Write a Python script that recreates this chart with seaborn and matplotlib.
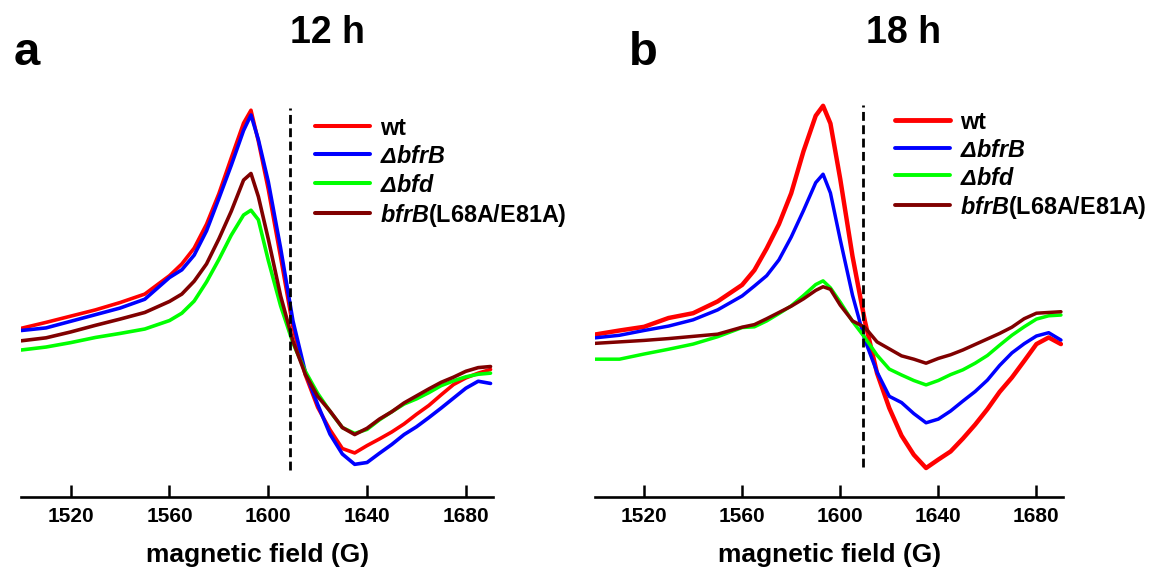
import matplotlib
matplotlib.use("Agg")
import matplotlib.pyplot as plt
import numpy as np
import pandas as pd
import seaborn as sns
from matplotlib.lines import Line2D

# ---------------- data (arbitrary intensity units) ----------------
field = [1500, 1510, 1520, 1530, 1540, 1550, 1560, 1565, 1570, 1575, 1580, 1585, 1590, 1593,
         1596, 1600, 1605, 1610, 1615, 1620, 1625, 1630, 1635, 1640, 1645, 1650, 1655, 1660,
         1665, 1670, 1675, 1680, 1685, 1690]

samples = ["wt", "ΔbfrB", "Δbfd", "bfrB(L68A/E81A)"]
legend_labels = ["wt", r"$\mathit{ΔbfrB}$", r"$\mathit{Δbfd}$", r"$\mathit{bfrB}$(L68A/E81A)"]
colors = ["#ff0000", "#0000ff", "#00ff00", "#800000"]

# panel a : 12 h
a_wt = [447, 463, 480, 497, 517, 540, 590, 622, 665, 730, 813, 910, 1005, 1040,
        955, 825, 640, 450, 320, 232, 171, 120, 108, 128, 146, 165, 187, 213,
        237, 266, 294, 312, 325, 335]
a_bfrB = [441, 448, 466, 484, 502, 526, 585, 606, 646, 712, 800, 890, 985, 1027,
          960, 846, 665, 467, 328, 240, 159, 105, 77, 82, 107, 131, 158, 179,
          204, 230, 257, 284, 303, 297]
a_bfd = [388, 396, 408, 422, 433, 445, 468, 488, 521, 573, 634, 700, 755, 768,
         742, 632, 508, 407, 330, 270, 221, 177, 161, 172, 198, 220, 241, 255,
         272, 291, 304, 315, 322, 325]
a_mut = [413, 421, 437, 455, 472, 490, 520, 540, 575, 622, 690, 765, 850, 868,
         805, 690, 535, 412, 322, 262, 222, 177, 158, 175, 200, 220, 244, 263,
         282, 300, 314, 330, 340, 343]

# panel b : 18 h
b_wt = [430, 441, 451, 475, 488, 520, 565, 605, 664, 730, 814, 928, 1025, 1052,
        1004, 853, 643, 468, 325, 230, 155, 103, 67, 90, 112, 147, 185, 227,
        274, 313, 358, 404, 422, 404]
b_bfrB = [421, 428, 441, 453, 470, 497, 535, 562, 590, 633, 695, 767, 843, 866,
          815, 688, 537, 416, 328, 262, 245, 215, 190, 200, 222, 249, 275, 306,
          346, 380, 405, 426, 435, 415]
b_bfd = [363, 363, 377, 390, 404, 424, 449, 451, 467, 487, 508, 536, 566, 576,
         557, 518, 466, 422, 374, 336, 320, 305, 293, 305, 321, 334, 352, 373,
         401, 428, 451, 472, 481, 483]
b_mut = [406, 410, 414, 419, 425, 431, 450, 457, 473, 490, 507, 527, 550, 560,
         553, 510, 467, 450, 410, 391, 372, 363, 352, 365, 375, 388, 403, 418,
         433, 450, 473, 488, 490, 492]

xticks = [1520, 1560, 1600, 1640, 1680]
ref_field = [1608.8, 1609.2]          # dashed reference line per panel
ref_span = [(62, 1045), (70, 1054)]   # its vertical extent (intensity units)

panels = [
    dict(title="12 h", letter="a", series=[a_wt, a_bfrB, a_bfd, a_mut]),
    dict(title="18 h", letter="b", series=[b_wt, b_bfrB, b_bfd, b_mut]),
]

# ---------------- style ----------------
sns.set_theme(style="white")
plt.rcParams["font.family"] = ["Liberation Sans", "DejaVu Sans"]
plt.rcParams["font.weight"] = "bold"
plt.rcParams["mathtext.fontset"] = "custom"
plt.rcParams["mathtext.it"] = "Liberation Sans:italic:bold"
plt.rcParams["mathtext.rm"] = "Liberation Sans:italic:bold"
plt.rcParams["mathtext.bf"] = "Liberation Sans:bold"

W, H = 1149, 573
fig = plt.figure(figsize=(W / 100, H / 100), dpi=100)

ax_rects = [
    [21.3 / W, (H - 496.7) / H, (493.0 - 21.3) / W, (496.7 - 90) / H],
    [595.0 / W, (H - 496.7) / H, (1063.4 - 595.0) / W, (496.7 - 90) / H],
]
legend_anchor = [(315 / W, 1 - 116.5 / H), (895 / W, 1 - 110.5 / H)]
legend_spacing = [0.22, 0.19]
title_pos = [(327, 42.7), (904, 42.7)]
letter_pos = [(27, 65), (643, 65)]
line_w = [[2.6, 2.6, 2.6, 2.6], [3.2, 2.5, 2.5, 2.5]]

for p, panel in enumerate(panels):
    ax = fig.add_axes(ax_rects[p])
    frames = []
    for name, vals in zip(samples, panel["series"]):
        frames.append(pd.DataFrame({"field": field, "signal": vals, "sample": name}))
    df = pd.concat(frames, ignore_index=True)

    handles = []
    for i, name in enumerate(samples):
        sub = df[df["sample"] == name]
        sns.lineplot(data=sub, x="field", y="signal", color=colors[i],
                     linewidth=line_w[p][i], errorbar=None, ax=ax, legend=False)
        handles.append(Line2D([], [], color=colors[i], linewidth=line_w[p][i] + 0.3))

    ax.vlines(ref_field[p], ref_span[p][0], ref_span[p][1], colors="black",
              linewidth=2.0, linestyles=(0, (3.2, 1.6)))

    ax.set_xlim(1500, 1691)
    ax.set_ylim(-11, 1095)
    ax.set_xticks(xticks)
    ax.set_xticklabels([str(t) for t in xticks])
    ax.set_yticks([])
    ax.set_ylabel("")
    ax.set_xlabel("magnetic field (G)", fontsize=19, fontweight="bold", labelpad=12.5,
                  color="black")
    for s in ["left", "right", "top"]:
        ax.spines[s].set_visible(False)
    ax.spines["bottom"].set_color("black")
    ax.spines["bottom"].set_linewidth(1.9)
    ax.tick_params(axis="x", direction="in", length=8.5, width=1.8, pad=7.5,
                   labelsize=15, colors="black", bottom=True)
    for lab in ax.get_xticklabels():
        lab.set_fontweight("bold")
    ax.set_facecolor("none")

    ax.legend(handles, legend_labels, loc="upper left",
              bbox_to_anchor=legend_anchor[p], bbox_transform=fig.transFigure,
              frameon=False, borderpad=0, borderaxespad=0,
              handlelength=2.35, handletextpad=0.45, handleheight=1.0,
              labelspacing=legend_spacing[p], prop=dict(weight="bold", size=16.8),
              labelcolor="black")

    tx, ty = title_pos[p]
    fig.text(tx / W, 1 - ty / H, panel["title"], ha="center", va="baseline",
             fontsize=27, fontweight="bold", color="black")
    lx, ly = letter_pos[p]
    fig.text(lx / W, 1 - ly / H, panel["letter"], ha="center", va="baseline",
             fontsize=34, fontweight="bold", color="black")

fig.savefig("out.png", dpi=100)
